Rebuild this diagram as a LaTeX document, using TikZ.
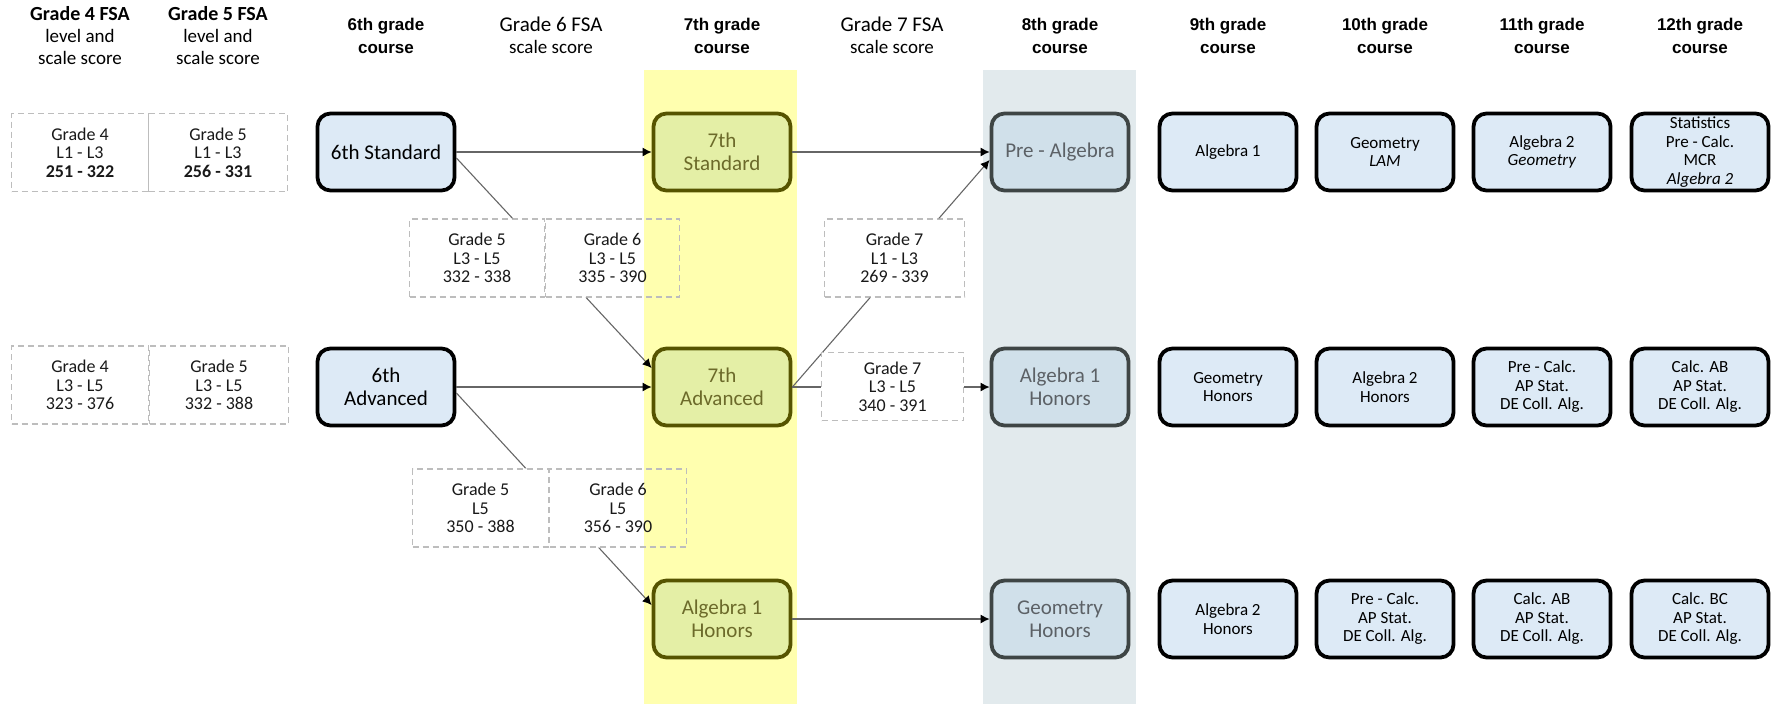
\documentclass[tikz,border=0pt]{standalone}
\usepackage{fontspec}
\setmainfont{Carlito}
\newfontfamily\headfont{Liberation Sans}
\usetikzlibrary{arrows.meta,positioning}
\definecolor{bandyellow}{HTML}{FFFFAF}
\definecolor{bandgrey}{HTML}{E2EAED}
\definecolor{crsblue}{HTML}{DDEAF6}
\definecolor{crsgreen}{HTML}{E4EFA6}
\definecolor{crsolive}{HTML}{565400}
\definecolor{txtolive}{HTML}{6C6A2A}
\definecolor{crsslate}{HTML}{D0E0EA}
\definecolor{crsdark}{HTML}{3E4545}
\definecolor{txtslate}{HTML}{5C6166}
\definecolor{scoreline}{HTML}{BDBDBD}

\begin{document}
\begin{tikzpicture}[x=1pt,y=-1pt,
    course/.style={draw,line width=3.8pt,rounded corners=13pt,fill=crsblue,
      minimum width=137pt,minimum height=77pt,inner sep=1pt,align=center,
      font=\fontsize{17}{18.5}\selectfont},
    big/.style={font=\fontsize{21}{23}\selectfont},
    seventh/.style={course,big,fill=crsgreen,draw=crsolive,text=txtolive},
    eighth/.style={course,big,fill=crsslate,draw=crsdark,text=txtslate},
    score/.style={draw=scoreline,dash pattern=on 6pt off 4pt,line width=1.2pt,
      minimum width=137pt,minimum height=78pt,inner sep=1pt,align=center,
      text=black!90,font=\fontsize{18}{18.5}\selectfont},
    fsa/.style={align=center,font=\fontsize{19}{22}\selectfont},
    grade/.style={align=center,font=\headfont\bfseries\fontsize{17}{23}\selectfont},
    link/.style={draw=black!60,line width=1.1pt},
    arr/.style={link,-{Latex[length=9pt,width=9pt,color=black]}}]
    \useasboundingbox (0,0) rectangle (1779,704);

    \fill[bandyellow] (644,70) rectangle (797,704);
    \fill[bandgrey] (983,70) rectangle (1136,704);

    \node[fsa] (h4) at (80,36) {{\bfseries\fontsize{20}{22}\selectfont Grade 4 FSA}\\level and\\scale score};
    \node[fsa] (h5) at (218,36) {{\bfseries\fontsize{20}{22}\selectfont Grade 5 FSA}\\level and\\scale score};
    \node[grade] (h6) at (386,36) {6th grade\\course};
    \node[fsa] (h6f) at (551,35) {{\fontsize{21}{22}\selectfont Grade 6 FSA}\\scale score};
    \node[grade] (h7) at (722,36) {7th grade\\course};
    \node[fsa] (h7f) at (892,35) {{\fontsize{21}{22}\selectfont Grade 7 FSA}\\scale score};
    \node[grade] (h8) at (1060,36) {8th grade\\course};
    \node[grade] (h9) at (1228,36) {9th grade\\course};
    \node[grade] (h10) at (1385,36) {10th grade\\course};
    \node[grade] (h11) at (1542,36) {11th grade\\course};
    \node[grade] (h12) at (1700,36) {12th grade\\course};

    \node[course,big] (std6) at (386,152) {6th Standard};
    \node[course,big] (adv6) at (386,387) {6th\\Advanced};
    \node[seventh] (std7) at (722,152) {7th\\Standard};
    \node[seventh] (adv7) at (722,387) {7th\\Advanced};
    \node[seventh] (alg7) at (722,619) {Algebra 1\\Honors};
    \node[eighth] (pre8) at (1060,152) {Pre - Algebra};
    \node[eighth] (alg8) at (1060,387) {Algebra 1\\Honors};
    \node[eighth] (geo8) at (1060,619) {Geometry\\Honors};

    \node[course] (alg9) at (1228,152) {Algebra 1};
    \node[course] (geo10) at (1385,152) {Geometry\\\textit{LAM}};
    \node[course] (alg11) at (1542,152) {Algebra 2\\\textit{Geometry}};
    \node[course] (stat12) at (1700,152) {Statistics\\Pre - Calc.\\MCR\\\textit{Algebra 2}};
    \node[course] (geo9) at (1228,387) {Geometry\\Honors};
    \node[course] (alg10) at (1385,387) {Algebra 2\\Honors};
    \node[course] (pre11) at (1542,387) {Pre - Calc.\\AP Stat.\\DE Coll. Alg.};
    \node[course] (ab12) at (1700,387) {Calc. AB\\AP Stat.\\DE Coll. Alg.};
    \node[course] (alg9h) at (1228,619) {Algebra 2\\Honors};
    \node[course] (pre10) at (1385,619) {Pre - Calc.\\AP Stat.\\DE Coll. Alg.};
    \node[course] (ab11) at (1542,619) {Calc. AB\\AP Stat.\\DE Coll. Alg.};
    \node[course] (bc12) at (1700,619) {Calc. BC\\AP Stat.\\DE Coll. Alg.};

    \node[score] (g4std) at (80,152.5) {Grade 4\\L1 - L3\\\textbf{251 - 322}};
    \node[score,minimum width=139pt] (g5std) at (218,152.5) {Grade 5\\L1 - L3\\\textbf{256 - 331}};
    \node[score] (g4adv) at (80,385) {Grade 4\\L3 - L5\\323 - 376};
    \node[score,minimum width=139pt] (g5adv) at (219,385) {Grade 5\\L3 - L5\\332 - 388};
    \node[score,minimum width=135pt] (g5up) at (477,258) {Grade 5\\L3 - L5\\332 - 338};
    \node[score,minimum width=134pt] (g6up) at (612.5,258) {Grade 6\\L3 - L5\\335 - 390};
    \node[score,minimum width=140pt] (g7low) at (894.5,258) {Grade 7\\L1 - L3\\269 - 339};
    \node[score,minimum width=142pt,minimum height=68pt] (g7high) at (892.5,386.5) {Grade 7\\L3 - L5\\340 - 391};
    \node[score,minimum width=136pt] (g5hon) at (480.5,508) {Grade 5\\L5\\350 - 388};
    \node[score,minimum width=137pt] (g6hon) at (618,508) {Grade 6\\L5\\356 - 390};

    \begin{scope}[even odd rule]
      \clip (0,0) rectangle (1779,704)
      (g5up.south west) rectangle (g6up.north east)
      (g7low.south west) rectangle (g7low.north east)
      (g7high.south west) rectangle (g7high.north east)
      (g5hon.south west) rectangle (g6hon.north east);
      \draw[arr] (std6) -- (std7);
      \draw[arr] (std7) -- (pre8);
      \draw[arr] (adv6) -- (adv7);
      \draw[arr] (adv7) -- (alg8);
      \draw[arr] (alg7) -- (geo8);
      \draw[arr] ([yshift=-6pt]std6.east) -- ([yshift=19pt]adv7.west);
      \draw[arr] ([yshift=-6pt]adv6.east) -- ([yshift=14pt]alg7.west);
      \draw[arr] (adv7.east) -- ([yshift=-8pt]pre8.west);
    \end{scope}
\end{tikzpicture}
\end{document}
